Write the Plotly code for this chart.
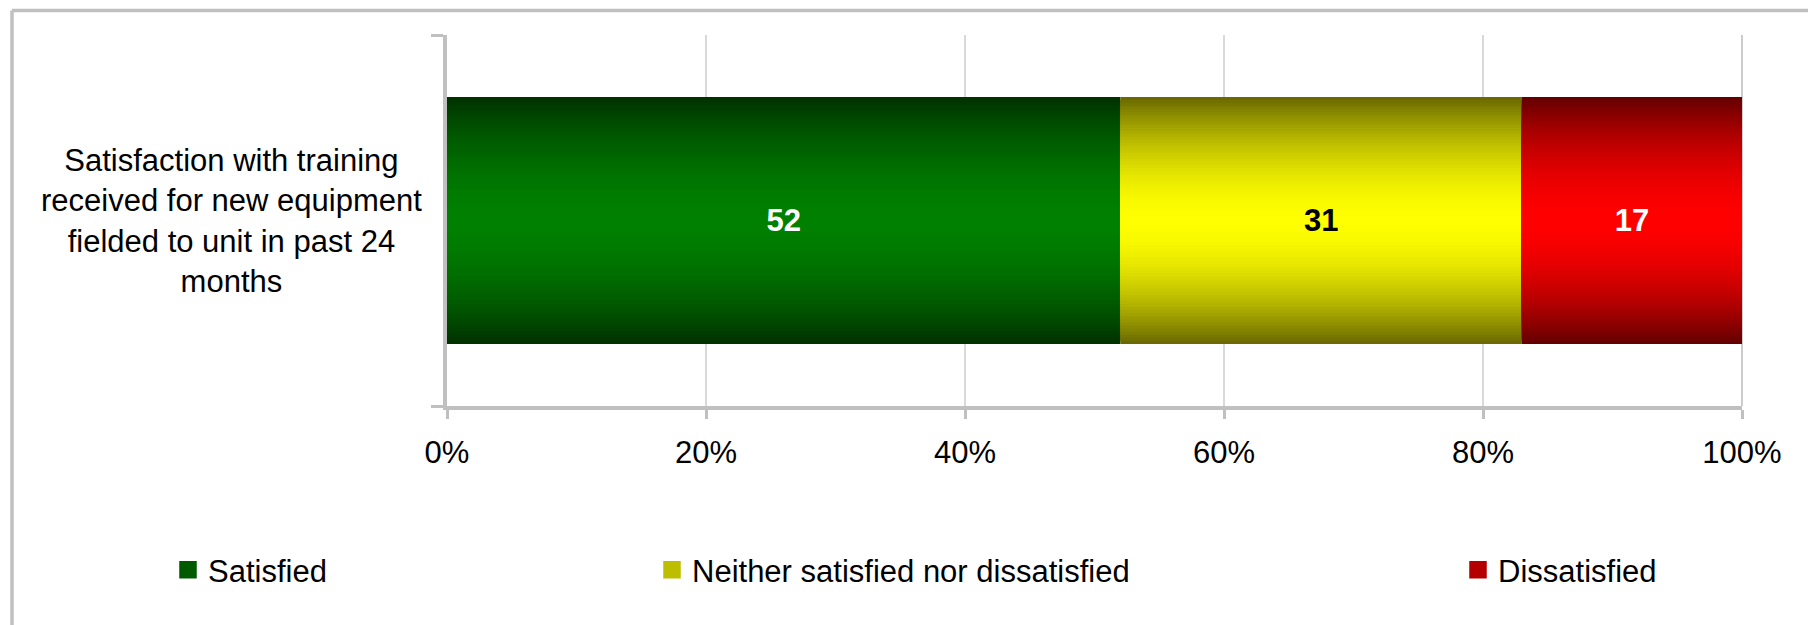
import textwrap
import numpy as np
import plotly.graph_objects as go

# ---------------- data ----------------
categories = ["Satisfaction with training received for new equipment fielded to unit in past 24 months"]
series_names = ["Satisfied", "Neither satisfied nor dissatisfied", "Dissatisfied"]
satisfied = [52]
neither = [31]
dissatisfied = [17]
x_tick_values = [0, 20, 40, 60, 80, 100]
x_tick_labels = ["0%", "20%", "40%", "60%", "80%", "100%"]

# ---------------- styles ----------------
FONT = "Liberation Sans, Arial, sans-serif"
W, H = 1808, 625
L, R, T, B = 447, 66, 35, 219
PW, PH = W - L - R, H - T - B

series_values = [satisfied, neither, dissatisfied]
edge_colors = [(0, 50, 0), (106, 106, 0), (102, 0, 0)]
center_colors = [(0, 128, 0), (255, 255, 0), (255, 0, 0)]
legend_colors = ["rgb(0,90,0)", "rgb(190,190,0)", "rgb(180,0,0)"]
label_colors = ["white", "black", "white"]
BAR_W = 0.666
N = 40


def mix(c0, c1, f):
    return "rgb(%d,%d,%d)" % tuple(int(round(a + (b - a) * f)) for a, b in zip(c0, c1))


def px_x(px):
    return (px - L) / PW


def px_y(py):
    return (H - B - py) / PH


fig = go.Figure()

cum = np.zeros(len(categories))
bases = []
for vals in series_values:
    bases.append(cum.copy())
    cum = cum + np.array(vals, dtype=float)

legend_ids = ["legend", "legend2", "legend3"]

# gradient layers (widest/darkest first, narrowest/brightest on top)
for i, (name, vals) in enumerate(zip(series_names, series_values)):
    for k in range(N):
        t = 1 - k / N
        frac = 1 - t ** 1.8
        col = mix(edge_colors[i], center_colors[i], frac)
        fig.add_trace(go.Bar(
            orientation="h", y=categories, x=vals, base=bases[i],
            width=BAR_W * t, name=name,
            marker=dict(color=col, line=dict(width=0)),
            showlegend=False, hoverinfo="skip",
        ))

# value labels on top
for i, (name, vals) in enumerate(zip(series_names, series_values)):
    fig.add_trace(go.Bar(
        orientation="h", y=categories, x=vals, base=bases[i], width=BAR_W,
        name=name, marker=dict(color="rgba(0,0,0,0)", line=dict(width=0)),
        text=[str(v) for v in vals], textposition="inside",
        insidetextanchor="middle", textangle=0, constraintext="none",
        textfont=dict(family=FONT, size=31, color=label_colors[i], weight="bold"),
        showlegend=False, hoverinfo="skip",
    ))

# legend entries (square keys)
for i, name in enumerate(series_names):
    fig.add_trace(go.Scatter(
        x=[None], y=[None], mode="markers", name=name,
        marker=dict(symbol="square", size=16, color=legend_colors[i],
                    line=dict(width=1.5, color=legend_colors[i])),
        legend=legend_ids[i], showlegend=True, hoverinfo="skip",
    ))

grid_col = "#d9d9d9"
axis_col = "#c0c0c0"

fig.update_layout(
    width=W, height=H, autosize=False,
    margin=dict(l=L, r=R, t=T, b=B, pad=0),
    paper_bgcolor="white", plot_bgcolor="white",
    barmode="overlay",
    font=dict(family=FONT, size=31, color="black"),
    xaxis=dict(
        range=[0, 100], tickvals=x_tick_values, ticktext=x_tick_labels,
        showgrid=True, gridcolor=grid_col, gridwidth=1.5,
        showline=True, linecolor=axis_col, linewidth=4,
        ticks="outside", ticklen=9, tickwidth=3, tickcolor=axis_col,
        tickfont=dict(size=31), ticklabelstandoff=7, zeroline=False,
        fixedrange=True,
    ),
    yaxis=dict(
        type="category", range=[-0.5, 0.5], tickson="boundaries",
        showgrid=True, gridcolor="#cccccc", gridwidth=2,
        showline=True, linecolor=axis_col, linewidth=4,
        ticks="outside", ticklen=12, tickwidth=3, tickcolor=axis_col,
        showticklabels=False, zeroline=False, fixedrange=True,
    ),
)

legend_px = [168, 652, 1458]
for lid, lx in zip(legend_ids, legend_px):
    fig.update_layout({lid: dict(
        x=px_x(lx), y=px_y(570), xanchor="left", yanchor="middle",
        orientation="h", bgcolor="rgba(0,0,0,0)", borderwidth=0,
        font=dict(family=FONT, size=31, color="black"),
    )})

# category label, centred lines like the original
fig.add_annotation(
    xref="paper", yref="y", x=px_x(424), y=categories[0],
    xanchor="right", yanchor="middle", align="center", showarrow=False,
    text="<br>".join(textwrap.wrap(categories[0], 27)),
    font=dict(family=FONT, size=31, color="black"),
)

# right border of plot area at 100%
fig.add_shape(type="line", xref="paper", yref="paper", x0=1, x1=1, y0=0, y1=1,
              line=dict(color="#cccccc", width=2), layer="below")

# outer chart frame
frame = dict(color=axis_col, width=3.5)
fig.add_shape(type="line", xref="paper", yref="paper", x0=px_x(12), x1=px_x(12),
              y0=px_y(10.5), y1=px_y(660), line=frame, layer="below")
fig.add_shape(type="line", xref="paper", yref="paper", x0=px_x(12), x1=px_x(1830),
              y0=px_y(10.5), y1=px_y(10.5), line=frame, layer="below")

fig.write_html("out.html", config={"displayModeBar": False},
               post_script="document.body.style.margin='0px';")
